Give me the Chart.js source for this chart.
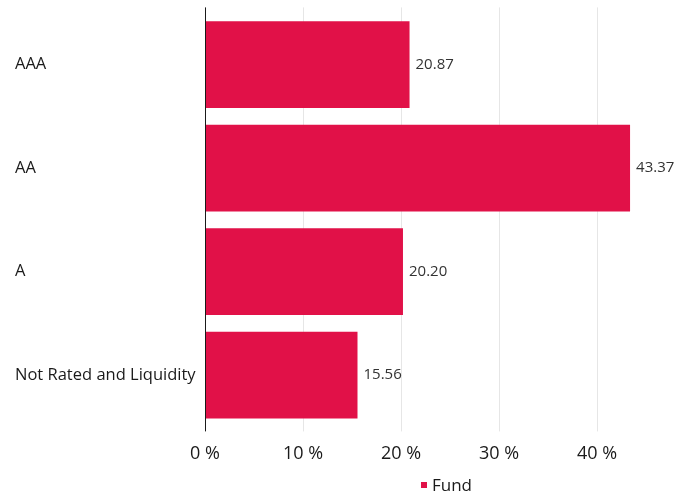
<!DOCTYPE html>
<html>
<head>
<meta charset="utf-8">
<script src="https://cdn.jsdelivr.net/npm/chart.js@4/dist/chart.umd.min.js"></script>
<style>
  html, body { margin: 0; padding: 0; background: #ffffff; }
  #wrap { width: 692px; height: 499px; }
</style>
</head>
<body>
<div id="wrap"><canvas id="c"></canvas></div>
<script>
const categories = ["AAA", "AA", "A", "Not Rated and Liquidity"];
const fundValues = [20.87, 43.37, 20.20, 15.56];
const seriesName = "Fund";
const tickValues = [0, 10, 20, 30, 40];

const FONT = "'Open Sans', sans-serif";
const BAR_COLOR = "#E11148";

const overlay = {
  id: "overlay",
  beforeDatasetsDraw(chart) {
    const ctx = chart.ctx, xs = chart.scales.x, a = chart.chartArea;
    ctx.save();
    ctx.strokeStyle = "#e6e6e6";
    ctx.lineWidth = 1;
    tickValues.forEach(v => {
      if (v === 0) return;
      const px = Math.round(xs.getPixelForValue(v)) + 0.5;
      ctx.beginPath();
      ctx.moveTo(px, a.top - 5.5);
      ctx.lineTo(px, a.bottom + 4.5);
      ctx.stroke();
    });
    ctx.restore();
  },
  afterDatasetsDraw(chart) {
    const ctx = chart.ctx, xs = chart.scales.x, a = chart.chartArea;
    ctx.save();
    const px0 = Math.round(xs.getPixelForValue(0)) + 0.5;
    ctx.strokeStyle = "#1a1a1a";
    ctx.lineWidth = 1;
    ctx.beginPath();
    ctx.moveTo(px0, a.top - 5.5);
    ctx.lineTo(px0, a.bottom + 4.5);
    ctx.stroke();
    const meta = chart.getDatasetMeta(0);
    ctx.fillStyle = "#333333";
    ctx.font = "15px " + FONT;
    ctx.textAlign = "left";
    ctx.textBaseline = "middle";
    meta.data.forEach((el, i) => {
      ctx.fillText(fundValues[i].toFixed(2), el.x + 6, el.y);
    });
    const ds = chart.data.datasets[0];
    ctx.font = "17px " + FONT;
    const tw = ctx.measureText(ds.label).width;
    const box = 6, gap = 5;
    const total = box + gap + tw;
    const cx = (a.left + a.right) / 2 + 3;
    const ly = 486;
    const lx = cx - total / 2;
    ctx.fillStyle = ds.backgroundColor;
    ctx.fillRect(lx, ly - box / 2 - 1, box, box);
    ctx.fillStyle = "#1a1a1a";
    ctx.textBaseline = "middle";
    ctx.fillText(ds.label, lx + box + gap, ly);
    ctx.restore();
  }
};

new Chart(document.getElementById("c"), {
  type: "bar",
  data: {
    labels: categories,
    datasets: [{
      label: seriesName,
      data: fundValues,
      backgroundColor: BAR_COLOR,
      borderWidth: 0,
      categoryPercentage: 1,
      barPercentage: 0.837
    }]
  },
  options: {
    indexAxis: "y",
    responsive: true,
    maintainAspectRatio: false,
    animation: false,
    layout: { padding: { left: 15, right: 10, top: 10.5, bottom: 18.5 } },
    plugins: {
      legend: { display: false },
      tooltip: { enabled: false }
    },
    scales: {
      x: {
        min: 0,
        max: 48.67,
        afterBuildTicks(scale) {
          scale.ticks = tickValues.map(v => ({ value: v }));
        },
        grid: { display: false, drawTicks: false },
        border: { display: false },
        ticks: {
          padding: 16,
          color: "#1a1a1a",
          font: { family: FONT, size: 18 },
          maxRotation: 0,
          callback: v => v + " %"
        }
      },
      y: {
        afterFit(scale) { scale.width = 190; },
        grid: { display: false, drawTicks: false },
        border: { display: false },
        ticks: {
          crossAlign: "far",
          color: "#1a1a1a",
          font: { family: FONT, size: 16.5 }
        }
      }
    }
  },
  plugins: [overlay]
});
</script>
</body>
</html>
